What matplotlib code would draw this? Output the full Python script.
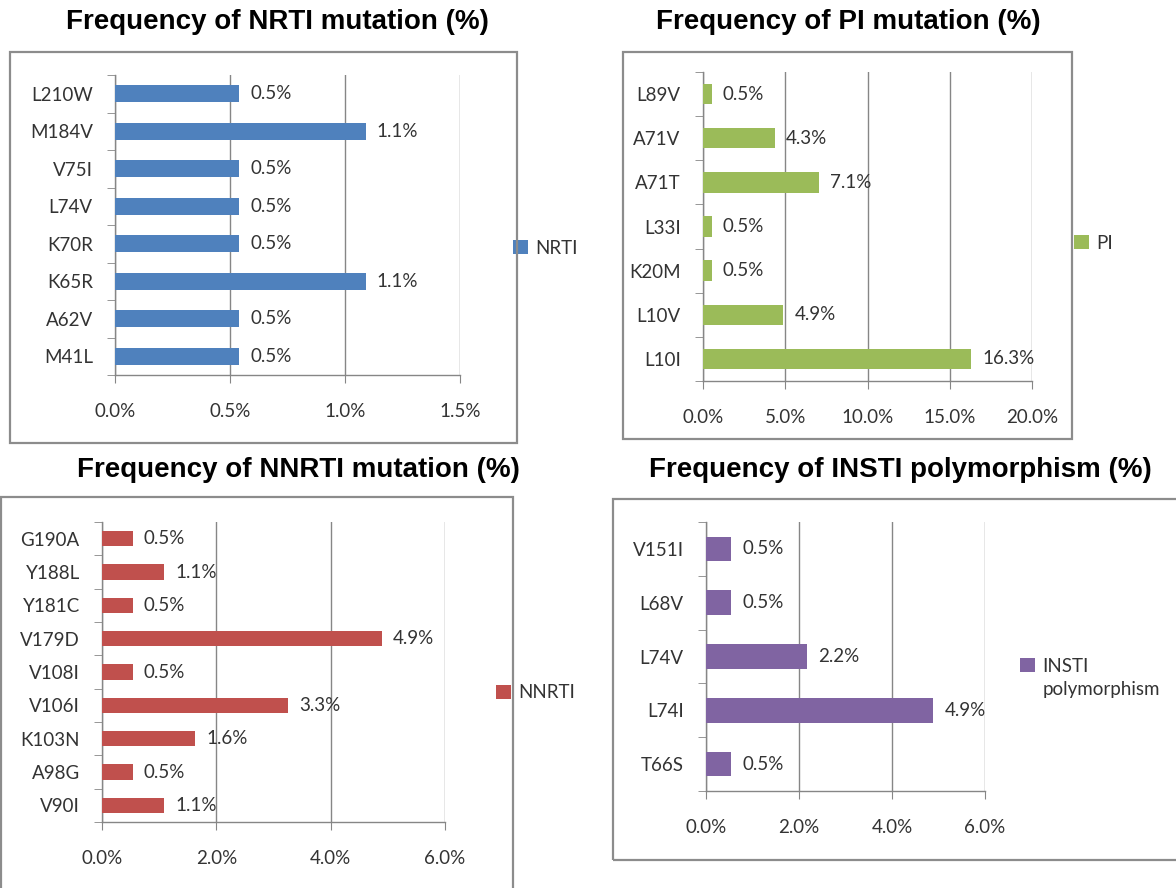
import matplotlib
matplotlib.use("Agg")
import matplotlib.pyplot as plt
from matplotlib.patches import Rectangle
from matplotlib.ticker import FixedLocator, FuncFormatter

# data (top to bottom as shown)
nrti_labels = ["L210W", "M184V", "V75I", "L74V", "K70R", "K65R", "A62V", "M41L"]
nrti_vals = [0.54, 1.09, 0.54, 0.54, 0.54, 1.09, 0.54, 0.54]

pi_labels = ["L89V", "A71V", "A71T", "L33I", "K20M", "L10V", "L10I"]
pi_vals = [0.54, 4.35, 7.07, 0.54, 0.54, 4.89, 16.30]

nnrti_labels = ["G190A", "Y188L", "Y181C", "V179D", "V108I", "V106I", "K103N", "A98G", "V90I"]
nnrti_vals = [0.54, 1.09, 0.54, 4.89, 0.54, 3.26, 1.63, 0.54, 1.09]

insti_labels = ["V151I", "L68V", "L74V", "L74I", "T66S"]
insti_vals = [0.54, 0.54, 2.17, 4.89, 0.54]

W, H = 1176, 888
fig = plt.figure(figsize=(W / 100, H / 100), dpi=100)
fig.patch.set_facecolor("white")

LABEL_FONT = "Lato"
TITLE_FONT = "Liberation Sans"
FS = 13.5
TXT = "#333333"
GRID = "#868686"


def px_axes(l, t, r, b):
    return fig.add_axes([l / W, 1 - b / H, (r - l) / W, (b - t) / H])


def box(l, t, r, b):
    fig.patches.append(Rectangle((l / W, 1 - b / H), (r - l) / W, (b - t) / H,
                                 transform=fig.transFigure, fill=False,
                                 edgecolor="#8c8c8c", linewidth=1.6))


def panel(ax, labels, vals, color, xmax, step, name, legend_xy, title, title_xy):
    n = len(labels)
    pos = list(range(n))
    bars = ax.barh(pos, vals, height=0.46, color=color, label=name, zorder=3)
    ax.set_ylim(n - 0.5, -0.5)
    ax.set_xlim(0, xmax)
    ticks = [i * step for i in range(int(round(xmax / step)) + 1)]
    ax.set_xticks(ticks)
    ax.xaxis.set_major_formatter(FuncFormatter(lambda v, p: f"{v:.1f}%"))
    ax.set_yticks(pos)
    ax.set_yticklabels(labels)
    ax.yaxis.set_minor_locator(FixedLocator([i - 0.5 for i in range(n + 1)]))
    ax.tick_params(axis="y", which="major", length=0, pad=16)
    ax.tick_params(axis="y", which="minor", length=6, color=GRID, direction="out")
    ax.tick_params(axis="x", length=6, color=GRID, pad=14)
    for t in ax.get_xticklabels() + ax.get_yticklabels():
        t.set_fontfamily(LABEL_FONT)
        t.set_fontsize(FS)
        t.set_color(TXT)
    ax.grid(axis="x", color=GRID, linewidth=1.0, zorder=0)
    for s in ["top", "right"]:
        ax.spines[s].set_visible(False)
    for s in ["left", "bottom"]:
        ax.spines[s].set_color(GRID)
        ax.spines[s].set_linewidth(1.0)
    ax.bar_label(bars, labels=[f"{v:.1f}%" for v in vals], padding=8,
                 fontfamily=LABEL_FONT, fontsize=FS, color=TXT)
    leg = ax.legend(loc="center left", bbox_to_anchor=(legend_xy[0] / W, 1 - legend_xy[1] / H),
                    bbox_transform=fig.transFigure, frameon=False,
                    borderaxespad=0, borderpad=0,
                    handlelength=0.8, handleheight=0.8, handletextpad=0.4,
                    prop={"family": LABEL_FONT, "size": FS})
    for t in leg.get_texts():
        t.set_color(TXT)
    fig.text(title_xy[0] / W, 1 - title_xy[1] / H, title, ha="center", va="center",
             fontfamily=TITLE_FONT, fontweight="bold", fontsize=20)
    return leg


# NRTI
box(10, 52, 517, 443)
ax1 = px_axes(115, 75, 460, 375)
panel(ax1, nrti_labels, nrti_vals, "#4F81BD", 1.5, 0.5, "NRTI", (513, 248),
      "Frequency of NRTI mutation (%)", (277, 22))

# PI
box(623, 52, 1072, 439)
ax2 = px_axes(703, 72, 1032, 381)
panel(ax2, pi_labels, pi_vals, "#9BBB59", 20, 5, "PI", (1074, 243),
      "Frequency of PI mutation (%)", (848, 22))

# NNRTI
box(1, 497, 513, 900)
ax3 = px_axes(102, 522, 445, 822)
panel(ax3, nnrti_labels, nnrti_vals, "#C0504D", 6, 2, "NNRTI", (496, 693),
      "Frequency of NNRTI mutation (%)", (298, 470))

# INSTI (legend entry wraps onto a second line, handle stays with the first)
box(613, 499, 1190, 860)
ax4 = px_axes(706, 522, 985, 791)
leg4 = panel(ax4, insti_labels, insti_vals, "#8064A2", 6, 2, "INSTI", (1020, 666),
             "Frequency of INSTI polymorphism (%)", (900, 470))
fig.canvas.draw()
bb = leg4.get_texts()[0].get_window_extent()
fig.text(bb.x0 / W, 1 - 690 / H, "polymorphism", ha="left", va="center",
         fontfamily=LABEL_FONT, fontsize=FS, color=TXT)

fig.savefig("out.png", dpi=100)
